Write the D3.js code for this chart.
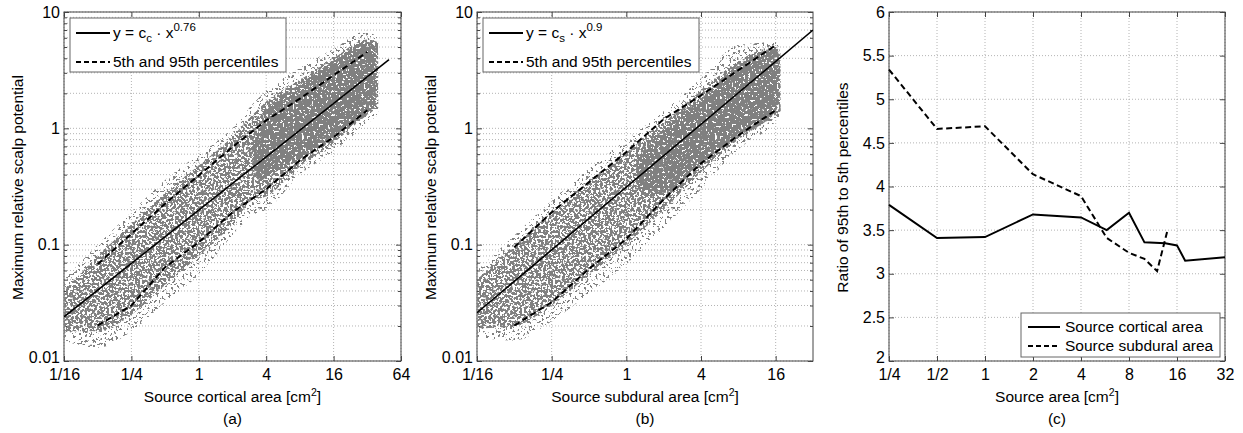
<!DOCTYPE html>
<html>
<head>
<meta charset="utf-8">
<script src="https://cdn.jsdelivr.net/npm/d3@7"></script>
<style>
body { margin: 0; background: #fff; }
text { font-family: "Liberation Sans", Arial, sans-serif; fill: #000; }
</style>
</head>
<body>
<div id="chart"></div>
<script>
// ---- values ----
var aTickVals = [1/16, 1/4, 1, 4, 16, 64],
    aTickLabels = ["1/16", "1/4", "1", "4", "16", "64"];
var bTickVals = [1/16, 1/4, 1, 4, 16],
    bTickLabels = ["1/16", "1/4", "1", "4", "16"];
var potTicks = [0.01, 0.1, 1, 10],
    potLabels = ["0.01", "0.1", "1", "10"];
var cTickVals = [1/4, 1/2, 1, 2, 4, 8, 16, 32],
    cTickLabels = ["1/4", "1/2", "1", "2", "4", "8", "16", "32"];
var ratioTicks = [2, 2.5, 3, 3.5, 4, 4.5, 5, 5.5, 6],
    ratioLabels = ["2", "2.5", "3", "3.5", "4", "4.5", "5", "5.5", "6"];

// panel (a): outline of the point cloud (sparse fringe, body, dense core)
var aCloudX   = [0.0625, 0.125, 0.25, 0.5, 1, 2, 3, 4, 8, 16, 32, 40];
var aOuterHi  = [0.05, 0.10, 0.19, 0.36, 0.6, 1.0, 1.6, 2.1, 3.3, 4.8, 6.9, 6.0];
var aOuterLo  = [0.015, 0.013, 0.018, 0.032, 0.055, 0.12, 0.18, 0.2, 0.4, 0.63, 1.1, 1.3];
var aBodyHi   = [0.04, 0.08, 0.15, 0.28, 0.48, 0.85, 1.3, 1.7, 2.6, 4.0, 5.8, 5.5];
var aBodyLo   = [0.018, 0.018, 0.025, 0.045, 0.08, 0.15, 0.24, 0.26, 0.47, 0.75, 1.3, 1.5];
var aCoreX    = [3, 3.5, 4, 8, 16, 32, 38];
var aCoreHi   = [0.7, 1.0, 1.4, 2.4, 3.8, 5.5, 5.0];
var aCoreLo   = [0.5, 0.35, 0.38, 0.55, 0.85, 1.35, 1.6];
var aFitX = [1/16, 50], aFitY = [0.024, 3.9];
var aPctX = [0.125, 0.25, 0.5, 1, 2, 4, 8, 16, 32];
var aP95  = [0.068, 0.124, 0.225, 0.394, 0.69, 1.17, 1.80, 2.86, 4.53];
var aP5   = [0.0202, 0.030, 0.064, 0.105, 0.19, 0.30, 0.53, 0.84, 1.43];

// panel (b)
var bCloudX   = [0.0625, 0.125, 0.25, 0.5, 1, 2, 4, 8, 16, 17.5];
var bOuterHi  = [0.06, 0.12, 0.24, 0.45, 0.8, 1.4, 2.7, 5.2, 5.5, 4.5];
var bOuterLo  = [0.016, 0.015, 0.022, 0.038, 0.068, 0.14, 0.3, 0.66, 1.15, 1.3];
var bBodyHi   = [0.05, 0.1, 0.19, 0.35, 0.62, 1.15, 2.1, 3.8, 5.0, 4.3];
var bBodyLo   = [0.019, 0.02, 0.03, 0.055, 0.1, 0.2, 0.42, 0.8, 1.3, 1.4];
var bCoreX    = [1.2, 2, 4, 8, 16, 17];
var bCoreHi   = [0.55, 1.0, 1.8, 3.5, 4.8, 4.3];
var bCoreLo   = [0.3, 0.28, 0.5, 0.85, 1.4, 1.6];
var bFitX = [1/16, 32], bFitY = [0.026, 7.0];
var bPctX = [0.125, 0.25, 0.5, 1, 2, 4, 8, 16];
var bP95  = [0.095, 0.19, 0.345, 0.625, 1.2, 1.92, 3.16, 5.18];
var bP5   = [0.0202, 0.032, 0.062, 0.112, 0.245, 0.50, 0.87, 1.43];

// panel (c)
var cCortX = [0.25, 0.5, 1, 2, 4, 5.8, 8, 10, 13.5, 16, 18, 32];
var cCort  = [3.79, 3.41, 3.42, 3.68, 3.645, 3.50, 3.70, 3.36, 3.35, 3.325, 3.15, 3.19];
var cSubX  = [0.25, 0.5, 1, 2, 4, 5.8, 8, 10, 12, 14];
var cSub   = [5.34, 4.66, 4.69, 4.14, 3.89, 3.41, 3.24, 3.17, 3.03, 3.51];

var W = 1243, H = 433, plotTop = 12, plotH = 349;
var axisCol = "#444", gridCol = "#b4b4b4";

var svg = d3.select("#chart").append("svg").attr("width", W).attr("height", H);
var defs = svg.append("defs");

// speckle texture so the cloud outlines read like scattered markers
function addSpeckle(id, cut) {
    var k = 30;
    var f = defs.append("filter").attr("id", id)
        .attr("filterUnits", "userSpaceOnUse")
        .attr("x", -20).attr("y", -20).attr("width", 400).attr("height", 400)
        .attr("color-interpolation-filters", "sRGB");
    f.append("feTurbulence").attr("type", "fractalNoise").attr("baseFrequency", 0.42)
        .attr("numOctaves", 2).attr("seed", 5).attr("result", "noise");
    f.append("feColorMatrix").attr("in", "noise").attr("type", "matrix")
        .attr("values", "0 0 0 0 0.5  0 0 0 0 0.5  0 0 0 0 0.5  " + k + " 0 0 0 " + (-k * cut))
        .attr("result", "dots");
    f.append("feComposite").attr("in", "dots").attr("in2", "SourceGraphic").attr("operator", "in");
}
addSpeckle("sparse", 0.6);
addSpeckle("dense", 0.45);
addSpeckle("solid", 0.33);

function zip(xs, ys) { return xs.map(function (d, i) { return [d, ys[i]]; }); }

function gridAndAxes(g, x, y, w, xVals, xLabels, yVals, yLabels, yMinor) {
    // dotted grid
    var grid = g.append("g");
    grid.selectAll(".gx").data(xVals).enter().append("line")
        .attr("x1", function (d) { return x(d); }).attr("x2", function (d) { return x(d); })
        .attr("y1", 0).attr("y2", plotH);
    grid.selectAll(".gy").data(yVals.concat(yMinor)).enter().append("line")
        .attr("x1", 0).attr("x2", w)
        .attr("y1", function (d) { return y(d); }).attr("y2", function (d) { return y(d); });
    grid.selectAll("line").attr("stroke", gridCol).attr("stroke-width", 1).attr("stroke-dasharray", "1,2");

    var axes = g.append("g").attr("class", "axes");
    axes.append("g").attr("transform", "translate(0," + plotH + ")")
        .call(d3.axisBottom(x).tickValues(xVals).tickSize(-5).tickPadding(8)
            .tickFormat(function (d, i) { return xLabels[i]; }));
    axes.append("g")
        .call(d3.axisTop(x).tickValues(xVals).tickSize(-5).tickFormat(""));
    var yAx = axes.append("g")
        .call(d3.axisLeft(y).tickValues(yVals).tickSize(-5).tickPadding(4)
            .tickFormat(function (d, i) { return yLabels[i]; }));
    // lift the lowest label a little so it clears the first x label
    yAx.select(".tick text").attr("dy", "0.1em");
    axes.append("g").attr("transform", "translate(" + w + ",0)")
        .call(d3.axisRight(y).tickValues(yVals).tickSize(-5).tickFormat(""));
    if (yMinor.length) {
        axes.append("g").call(d3.axisLeft(y).tickValues(yMinor).tickSize(-3).tickFormat(""));
        axes.append("g").attr("transform", "translate(" + w + ",0)")
            .call(d3.axisRight(y).tickValues(yMinor).tickSize(-3).tickFormat(""));
    }
    axes.selectAll(".domain").remove();
    axes.selectAll("line").attr("stroke", axisCol);
    axes.selectAll("text").attr("font-size", 16).attr("fill", "#000");
    g.append("rect").attr("width", w).attr("height", plotH)
        .attr("fill", "none").attr("stroke", axisCol).attr("stroke-width", 1);
}

function titles(left, w, yLabel, xLabel, letter) {
    var cx = left + w / 2;
    var xt = svg.append("text").attr("x", cx).attr("y", 402).attr("text-anchor", "middle").attr("font-size", 15.5);
    xt.append("tspan").text(xLabel + " [cm");
    xt.append("tspan").attr("dy", -6).attr("font-size", 10.5).text("2");
    xt.append("tspan").attr("dy", 6).text("]");
    svg.append("text").attr("x", cx).attr("y", 424).attr("text-anchor", "middle")
        .attr("font-size", 15.5).text(letter);
    svg.append("text").attr("transform", "translate(" + (left - 41) + "," + (plotTop + plotH / 2 + 1) + ") rotate(-90)")
        .attr("text-anchor", "middle").attr("font-size", 15.5).text(yLabel);
}

function scatterPanel(p) {
    var w = p.right - p.left;
    var g = svg.append("g").attr("transform", "translate(" + p.left + "," + plotTop + ")");
    var x = d3.scaleLog().base(2).domain(p.xDomain).range([0, w]);
    var y = d3.scaleLog().domain([0.01, 10]).range([plotH, 0]);
    var minor = [];
    [0.01, 0.1, 1].forEach(function (dec) { for (var k = 2; k <= 9; k++) minor.push(dec * k); });

    gridAndAxes(g, x, y, w, p.xVals, p.xLabels, potTicks, potLabels, minor);

    defs.append("clipPath").attr("id", "clip" + p.id).append("rect").attr("width", w).attr("height", plotH);
    var cloud = g.append("g").attr("clip-path", "url(#clip" + p.id + ")");
    var band = d3.area().curve(d3.curveMonotoneX).x(function (d) { return x(d[0]); })
        .y0(function (d) { return y(d[1]); }).y1(function (d) { return y(d[2]); });
    function rows(xs, lo, hi) { return xs.map(function (d, i) { return [d, lo[i], hi[i]]; }); }
    cloud.append("path").attr("d", band(rows(p.cloudX, p.outerLo, p.outerHi)))
        .attr("fill", "#000").attr("filter", "url(#sparse)");
    cloud.append("path").attr("d", band(rows(p.cloudX, p.bodyLo, p.bodyHi)))
        .attr("fill", "#000").attr("filter", "url(#dense)");
    cloud.append("path").attr("d", band(rows(p.coreX, p.coreLo, p.coreHi)))
        .attr("fill", "#000").attr("filter", "url(#solid)");

    var line = d3.line().x(function (d) { return x(d[0]); }).y(function (d) { return y(d[1]); });
    cloud.append("path").attr("d", line(zip(p.fitX, p.fitY)))
        .attr("fill", "none").attr("stroke", "#000").attr("stroke-width", 1.6);
    [p.p95, p.p5].forEach(function (s) {
        cloud.append("path").attr("d", line(zip(p.pctX, s)))
            .attr("fill", "none").attr("stroke", "#000").attr("stroke-width", 2).attr("stroke-dasharray", "6,3.5");
    });

    // legend
    var lg = g.append("g").attr("transform", "translate(" + p.legX + ",6)");
    lg.append("rect").attr("width", 216).attr("height", 54).attr("fill", "#fff").attr("stroke", "#666");
    lg.append("line").attr("x1", 6).attr("x2", 40).attr("y1", 15).attr("y2", 15).attr("stroke", "#000").attr("stroke-width", 2);
    lg.append("line").attr("x1", 6).attr("x2", 40).attr("y1", 44).attr("y2", 44).attr("stroke", "#000")
        .attr("stroke-width", 2).attr("stroke-dasharray", "5,3");
    var t = lg.append("text").attr("x", 43).attr("y", 20).attr("font-size", 15.5);
    t.append("tspan").text("y = c");
    t.append("tspan").attr("dy", 4).attr("font-size", 11.5).text(p.sub);
    t.append("tspan").attr("dy", -4).text(" \u00b7 x");
    t.append("tspan").attr("dy", -7).attr("font-size", 11.5).text(p.expo);
    lg.append("text").attr("x", 43).attr("y", 49).attr("font-size", 15.5).text("5th and 95th percentiles");

    titles(p.left, w, "Maximum relative scalp potential", p.xLabel, p.letter);
}

scatterPanel({ id: "a", left: 64, right: 401, xDomain: [1/16, 64], xVals: aTickVals, xLabels: aTickLabels,
    cloudX: aCloudX, outerHi: aOuterHi, outerLo: aOuterLo, bodyHi: aBodyHi, bodyLo: aBodyLo,
    coreX: aCoreX, coreHi: aCoreHi, coreLo: aCoreLo, fitX: aFitX, fitY: aFitY,
    pctX: aPctX, p95: aP95, p5: aP5, legX: 6, sub: "c", expo: "0.76",
    xLabel: "Source cortical area", letter: "(a)" });

scatterPanel({ id: "b", left: 477, right: 813, xDomain: [1/16, 32], xVals: bTickVals, xLabels: bTickLabels,
    cloudX: bCloudX, outerHi: bOuterHi, outerLo: bOuterLo, bodyHi: bBodyHi, bodyLo: bBodyLo,
    coreX: bCoreX, coreHi: bCoreHi, coreLo: bCoreLo, fitX: bFitX, fitY: bFitY,
    pctX: bPctX, p95: bP95, p5: bP5, legX: 6, sub: "s", expo: "0.9",
    xLabel: "Source subdural area", letter: "(b)" });

// panel (c): ratio of percentiles
(function () {
    var left = 889, w = 336;
    var g = svg.append("g").attr("transform", "translate(" + left + "," + plotTop + ")");
    var x = d3.scaleLog().base(2).domain([1/4, 32]).range([0, w]);
    var y = d3.scaleLinear().domain([2, 6]).range([plotH, 0]);
    gridAndAxes(g, x, y, w, cTickVals, cTickLabels, ratioTicks, ratioLabels, []);

    var line = d3.line().x(function (d) { return x(d[0]); }).y(function (d) { return y(d[1]); });
    g.append("path").attr("d", line(zip(cCortX, cCort)))
        .attr("fill", "none").attr("stroke", "#000").attr("stroke-width", 2);
    g.append("path").attr("d", line(zip(cSubX, cSub)))
        .attr("fill", "none").attr("stroke", "#000").attr("stroke-width", 2).attr("stroke-dasharray", "6,3.5");

    var lg = g.append("g").attr("transform", "translate(132,301)");
    lg.append("rect").attr("width", 199).attr("height", 44).attr("fill", "#fff").attr("stroke", "#666");
    lg.append("line").attr("x1", 7).attr("x2", 39).attr("y1", 14).attr("y2", 14).attr("stroke", "#000").attr("stroke-width", 2);
    lg.append("line").attr("x1", 7).attr("x2", 39).attr("y1", 33).attr("y2", 33).attr("stroke", "#000")
        .attr("stroke-width", 2).attr("stroke-dasharray", "5,3");
    lg.append("text").attr("x", 44).attr("y", 19).attr("font-size", 15.5).text("Source cortical area");
    lg.append("text").attr("x", 44).attr("y", 38).attr("font-size", 15.5).text("Source subdural area");

    titles(left, w, "Ratio of 95th to 5th percentiles", "Source area", "(c)");
})();
</script>
</body>
</html>
